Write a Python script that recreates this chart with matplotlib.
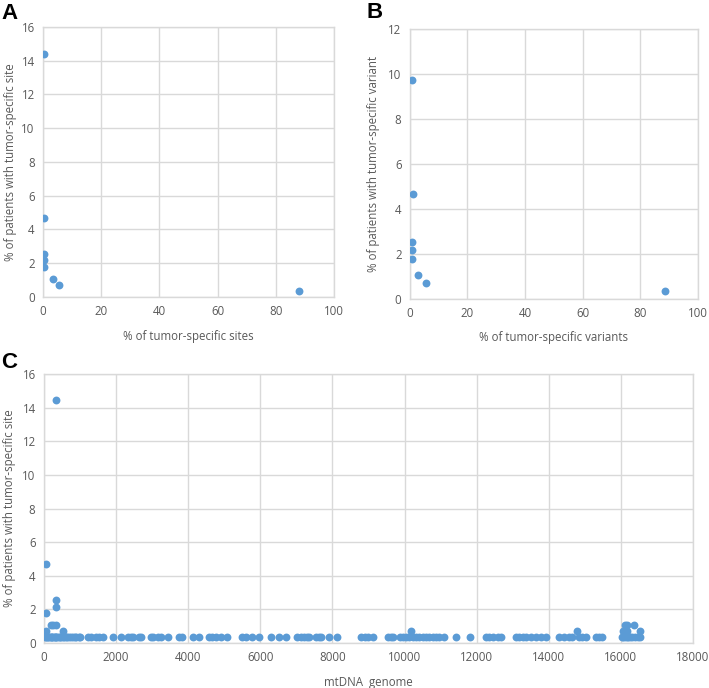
import matplotlib

matplotlib.use("Agg")
import matplotlib.pyplot as plt

plt.rcParams["font.family"] = ["Open Sans", "DejaVu Sans"]

BLUE = "#5b9bd5"
GRID = "#d9d9d9"
TXT = "#595959"

# Panel A: % of tumor-specific sites vs % of patients
a_x = [0.5, 0.5, 0.5, 0.5, 0.5, 3.5, 5.5, 88.0]
a_y = [14.4, 4.69, 2.53, 2.17, 1.8, 1.08, 0.72, 0.36]

# Panel B: % of tumor-specific variants vs % of patients
b_x = [0.8, 1.2, 0.8, 0.8, 0.8, 3.0, 5.5, 88.5]
b_y = [9.75, 4.66, 2.53, 2.17, 1.8, 1.08, 0.72, 0.36]

# Panel C: position on mtDNA genome
c_hi_x = [323, 65, 340, 340, 65, 200, 250, 340, 65, 527]
c_hi_y = [14.44, 4.69, 2.53, 2.17, 1.8, 1.08, 1.08, 1.08, 0.72, 0.72]
c_mid_x = [10184, 14795, 16070, 16160, 16520, 16110, 16180, 16360]
c_mid_y = [0.72, 0.72, 0.72, 0.72, 0.72, 1.08, 1.08, 1.08]
c_base_x = [
    16, 50, 73, 100, 150, 185, 200, 230, 260, 295, 310, 330, 370, 410, 450,
    480, 515, 550, 600, 650, 700, 750, 800, 850, 900, 960, 1000,
    1217, 1309, 1447, 1540, 1632,
    1908, 2139, 2323, 2416, 2462, 2646, 2692,
    2969, 3015, 3153, 3245, 3430,
    3753, 3826, 4121, 4306,
    4582, 4674, 4767, 4905, 5089,
    5504, 5596, 5781, 5965, 6288, 6519, 6703,
    7026, 7118, 7210, 7302, 7348, 7533, 7625, 7671, 7902, 8132,
    8801, 8893, 8986, 9124, 9539, 9631, 9677,
    9862, 9954, 10046, 10138, 10230, 10323, 10415, 10507, 10599, 10692,
    10784, 10876, 10968, 11106, 11429, 11816,
    12259, 12351, 12443, 12582, 12674,
    13089, 13181, 13273, 13366, 13504, 13642, 13781, 13919,
    14287, 14426, 14564, 14656, 14841, 14933, 15025, 15302, 15394, 15486,
    16024, 16070, 16116, 16162, 16208, 16254, 16300, 16390, 16480, 16540,
]
c_base_y = [0.36] * len(c_base_x)

MS = 32


def style_ax(ax, xlim, xticks, ylim, yticks, xlabel, ylabel, xl_pos, yl_pos):
    ax.set_xlim(*xlim)
    ax.set_ylim(*ylim)
    ax.set_xticks(xticks)
    ax.set_yticks(yticks)
    ax.grid(True, color=GRID, linewidth=1.0)
    ax.set_axisbelow(True)
    for sp in ax.spines.values():
        sp.set_color(GRID)
        sp.set_linewidth(1.0)
    ax.tick_params(length=0, labelsize=8.3, colors=TXT, pad=6)
    ax.set_xlabel(xlabel, fontsize=8.3, color=TXT)
    ax.set_ylabel(ylabel, fontsize=8.3, color=TXT)
    ax.xaxis.set_label_coords(*xl_pos, transform=fig.transFigure)
    ax.yaxis.set_label_coords(*yl_pos, transform=fig.transFigure)


fig = plt.figure(figsize=(7.09, 6.88), dpi=100)

ax_a = fig.add_axes([0.0606, 0.5683, 0.4105, 0.3925])
ax_a.scatter(a_x, a_y, s=MS, color=BLUE, zorder=3, linewidths=0)
style_ax(ax_a, (0, 100), range(0, 101, 20), (0, 16), range(0, 17, 2),
         "% of tumor-specific sites", "% of patients with tumor-specific site",
         (0.266, 0.521), (0.024, 0.7645))

ax_b = fig.add_axes([0.578, 0.5654, 0.4065, 0.3924])
ax_b.scatter(b_x, b_y, s=MS, color=BLUE, zorder=3, linewidths=0)
style_ax(ax_b, (0, 100), range(0, 101, 20), (0, 12), range(0, 13, 2),
         "% of tumor-specific variants", "% of patients with tumor-specific variant",
         (0.781, 0.519), (0.536, 0.7616))

ax_c = fig.add_axes([0.062, 0.0654, 0.9154, 0.391])
ax_c.scatter(c_base_x, c_base_y, s=MS, color=BLUE, zorder=3, linewidths=0)
ax_c.scatter(c_mid_x, c_mid_y, s=MS, color=BLUE, zorder=3, linewidths=0)
ax_c.scatter(c_hi_x, c_hi_y, s=MS, color=BLUE, zorder=3, linewidths=0)
style_ax(ax_c, (0, 18000), range(0, 18001, 2000), (0, 16), range(0, 17, 2),
         "mtDNA  genome", "% of patients with tumor-specific site",
         (0.52, 0.0174), (0.0226, 0.2616))

for lbl, x, y in [("A", 0.002, 0.995), ("B", 0.517, 0.997), ("C", 0.002, 0.488)]:
    fig.text(x, y, lbl, fontsize=16, fontweight="bold", color="black",
             family=["Liberation Sans", "DejaVu Sans"], va="top", ha="left")

fig.savefig("out.png", dpi=100)
